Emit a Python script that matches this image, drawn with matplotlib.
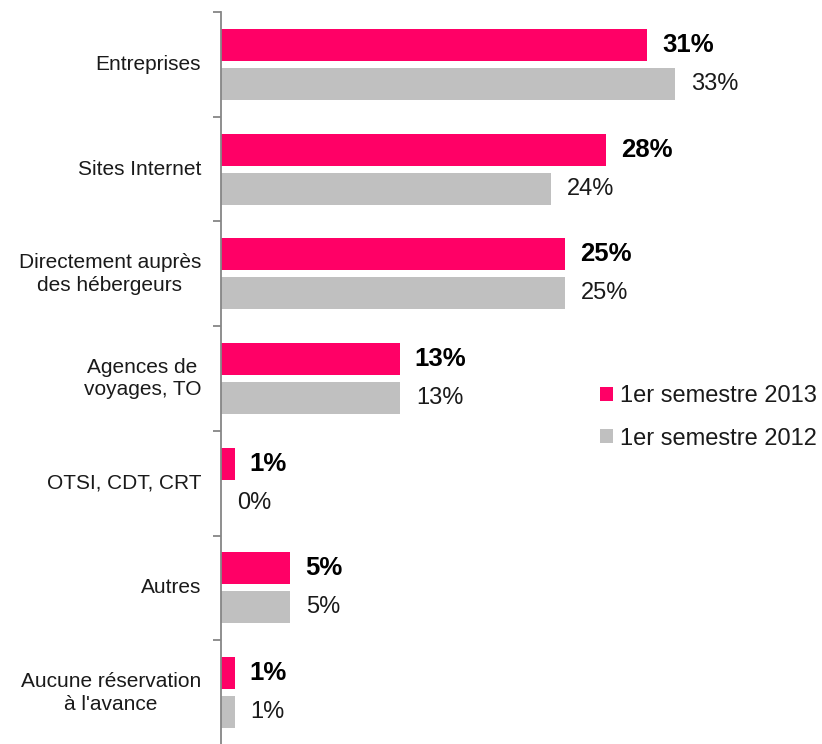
import matplotlib
matplotlib.use("Agg")
import matplotlib.pyplot as plt
import matplotlib.transforms as mtransforms
from matplotlib.patches import Patch
import numpy as np

plt.rcParams['font.family'] = ['Liberation Sans', 'DejaVu Sans']

categories = [
    "Entreprises",
    "Sites Internet",
    "Directement auprès\ndes hébergeurs",
    "Agences de\nvoyages, TO",
    "OTSI, CDT, CRT",
    "Autres",
    "Aucune réservation\nà l'avance",
]
values_2013 = [31, 28, 25, 13, 1, 5, 1]
values_2012 = [33, 24, 25, 13, 0, 5, 1]
series_names = ["1er semestre 2013", "1er semestre 2012"]

PINK = "#FF0066"
GREY = "#C0C0C0"
AXIS = "#868686"

W, H = 822, 744
fig = plt.figure(figsize=(W / 100, H / 100), dpi=100)
ax = fig.add_axes([221 / W, -1 / H, 1 - 221 / W, (745 - 12) / H])

n = len(categories)
y = np.arange(n)
off, h = 0.186, 0.306

ax.barh(y - off, values_2013, height=h, color=PINK, linewidth=0)
ax.barh(y + off, values_2012, height=h, color=GREY, linewidth=0)

ax.set_xlim(0, 43.7)
ax.set_ylim(n - 0.5, -0.5)

for spine in ("top", "right", "bottom"):
    ax.spines[spine].set_visible(False)
ax.spines["left"].set_color(AXIS)
ax.spines["left"].set_linewidth(1.3)
ax.set_xticks([])
ax.set_yticks(np.arange(n + 1) - 0.5)
ax.set_yticklabels([])
ax.tick_params(axis="y", direction="out", length=5.5, width=1.3, color=AXIS)

# category labels, right-aligned block with centred lines
trans = mtransforms.blended_transform_factory(ax.transAxes, ax.transData)
trans = mtransforms.offset_copy(trans, fig=fig, x=-20, y=0, units="dots")
for yi, cat in zip(y, categories):
    ax.text(0, yi, cat, transform=trans, ha="right", va="center",
            multialignment="center", fontsize=15, linespacing=1.25, color="#1a1a1a")

# value labels
for yi, v in zip(y, values_2013):
    ax.annotate(f"{v}%", (v, yi - off), xytext=(10.8, 0), textcoords="offset points",
                ha="left", va="center", fontsize=18.5, fontweight="bold", color="black")
for yi, v in zip(y, values_2012):
    ax.annotate(f"{v}%", (v, yi + off), xytext=(11.5, 0), textcoords="offset points",
                ha="left", va="center", fontsize=17, color="#1a1a1a")

handles = [Patch(facecolor=PINK, edgecolor="none"), Patch(facecolor=GREY, edgecolor="none")]
leg = fig.legend(handles, series_names, loc="upper left",
                 bbox_to_anchor=(600 / W, 1 - 385 / H), frameon=False,
                 fontsize=17, handlelength=0.55, handleheight=0.55,
                 handletextpad=0.3, labelspacing=0.87, borderaxespad=0, borderpad=0)
for t in leg.get_texts():
    t.set_color("#1a1a1a")

fig.savefig("out.png", dpi=100)
